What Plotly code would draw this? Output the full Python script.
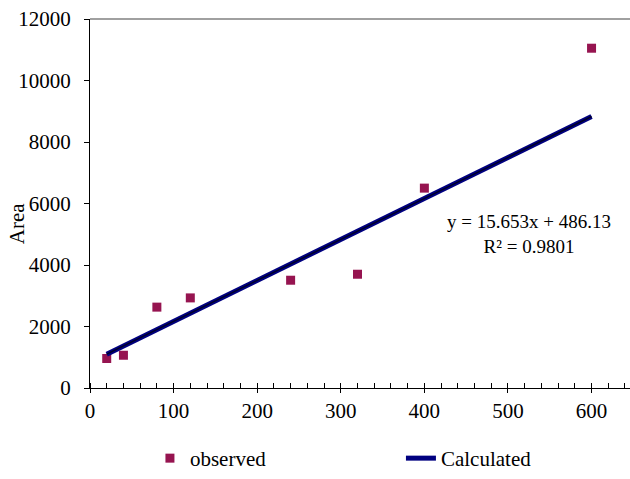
import plotly.graph_objects as go

# data
x_vals = [20, 40, 80, 120, 240, 320, 400, 600]
observed = [960, 1065, 2630, 2930, 3505, 3700, 6500, 11050]
calculated = [1100, 1366, 1900, 2433, 4033, 5100, 6166, 8830]
x_ticks = [0, 100, 200, 300, 400, 500, 600]
y_ticks = [0, 2000, 4000, 6000, 8000, 10000, 12000]
y_tick_labels = ["0", "2000", "4000", "6000", "8000", "10000", "12000"]
equation_text = "y = 15.653x + 486.13<br>R² = 0.9801"

FONT = "Liberation Serif, Times New Roman, serif"
FS = 21

fig = go.Figure()
fig.add_trace(go.Scatter(
    x=x_vals, y=observed, mode="markers", name="observed",
    marker=dict(symbol="square", size=9, color="#961450"),
))
fig.add_trace(go.Scatter(
    x=x_vals, y=calculated, mode="lines", name="Calculated",
    line=dict(color="#000080", width=5),
))
fig.add_trace(go.Scatter(
    x=x_vals, y=calculated, mode="lines", showlegend=False, hoverinfo="skip",
    line=dict(color="#000028", width=1.5),
))
# invisible trace on overlay axis for crossing major ticks
fig.add_trace(go.Scatter(x=x_vals, y=observed, xaxis="x2", mode="markers",
                         marker=dict(opacity=0), showlegend=False, hoverinfo="skip"))

xrange = [0, 646]
fig.update_layout(
    width=630, height=479,
    margin=dict(l=90, r=0, t=19, b=91),
    plot_bgcolor="white", paper_bgcolor="white",
    font=dict(family=FONT, size=FS, color="black"),
    showlegend=True,
    legend=dict(orientation="h", x=0.238, xref="container", y=-0.008, yref="container",
                yanchor="bottom", xanchor="left",
                entrywidth=206, entrywidthmode="pixels",
                font=dict(family=FONT, size=FS), bgcolor="rgba(0,0,0,0)"),
    xaxis=dict(range=xrange, tickvals=x_ticks, ticks="outside", ticklen=4, tickwidth=1,
               tickcolor="black", showline=True, linecolor="black", linewidth=1,
               showgrid=False, zeroline=False,
               minor=dict(dtick=20, ticks="inside", ticklen=5, tickcolor="black", showgrid=False),
               tickfont=dict(size=FS)),
    xaxis2=dict(range=xrange, overlaying="x", tickvals=x_ticks, ticks="inside", ticklen=5,
                tickcolor="black", showticklabels=False, showline=False, showgrid=False,
                zeroline=False, side="bottom", anchor="y"),
    yaxis=dict(range=[0, 12000], tickvals=y_ticks, ticktext=y_tick_labels, ticks="outside",
               ticklen=5, tickcolor="black", showline=True, linecolor="black", linewidth=1,
               showgrid=False, zeroline=False, tickfont=dict(size=FS),
               ticklabelstandoff=9),
)
fig.add_shape(type="line", xref="paper", yref="paper", x0=0, x1=1, y0=1, y1=1,
              line=dict(color="#808080", width=1.5))
fig.add_annotation(xref="x", yref="y", x=525, y=5000, text=equation_text, showarrow=False,
                   font=dict(family=FONT, size=19, color="black"), align="center")
fig.add_annotation(xref="paper", yref="paper", x=-0.135, y=0.444, text="Area",
                   xanchor="center", yanchor="middle",
                   textangle=-90, showarrow=False, font=dict(family=FONT, size=FS, color="black"))

fig.write_html("out.html")
